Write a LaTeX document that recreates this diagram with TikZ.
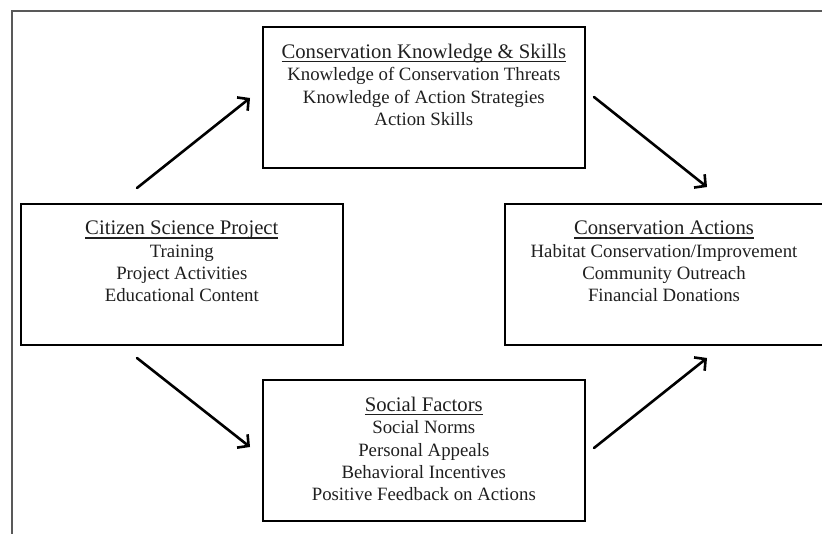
\documentclass[tikz,border=0pt]{standalone}
\usepackage{fontspec}
\setmainfont{Liberation Serif}
\usetikzlibrary{arrows.meta}
% title with a thin rule just under its baseline
\newcommand{\boxtitle}[1]{{\fontsize{20.7}{22.3}\selectfont
  \setbox0\hbox{#1}\rlap{\copy0}\raisebox{-3.6pt}{\rule{\wd0}{1.1pt}}}}
\begin{document}
\begin{tikzpicture}[x=1pt,y=-1pt,
  box/.style={draw=black,line width=1.6pt,rectangle,inner sep=0pt,
    minimum width=322pt,minimum height=141pt,anchor=north west},
  boxtext/.style={anchor=north,align=center,inner sep=0pt,text=black!88,
    font=\fontsize{18.8}{22.3}\selectfont},
  flow/.style={line width=2.6pt,line cap=round,
    -{Straight Barb[length=8pt,width=17pt,line width=2.6pt]}}]
\useasboundingbox (0,0) rectangle (822,534);
\begin{scope}
\clip (0,0) rectangle (822,534);
% outer frame
\draw[draw=black!65,line width=1.6pt] (12,11) rectangle (840,560);
% boxes
\node[box] (know) at (262,26) {};
\node[box] (csp) at (20,203) {};
\node[box,minimum width=330pt] (act) at (504,203) {};
\node[box] (soc) at (262,379) {};
\end{scope}
% box contents
\node[boxtext] (knowt) at ([yshift=-18pt]know.north)
  {\boxtitle{Conservation Knowledge \& Skills}\\Knowledge of Conservation Threats\\Knowledge of Action Strategies\\Action Skills};
\node[boxtext] (cspt) at ([yshift=-18pt]csp.north)
  {\boxtitle{Citizen Science Project}\\Training\\Project Activities\\Educational Content};
\node[boxtext] (actt) at ([xshift=160pt,yshift=-18pt]act.north west)
  {\boxtitle{Conservation Actions}\\Habitat Conservation/Improvement\\Community Outreach\\Financial Donations};
\node[boxtext] (soct) at ([yshift=-18pt]soc.north)
  {\boxtitle{Social Factors}\\Social Norms\\Personal Appeals\\Behavioral Incentives\\Positive Feedback on Actions};
% arrows between the stages
\coordinate (a1s) at (137,188); \coordinate (a1e) at (250,98);
\coordinate (a2s) at (594,97);  \coordinate (a2e) at (707,187);
\coordinate (a3s) at (137,358); \coordinate (a3e) at (250,447);
\coordinate (a4s) at (594,448); \coordinate (a4e) at (707,358);
\draw[flow] (a1s) -- (a1e);
\draw[flow] (a2s) -- (a2e);
\draw[flow] (a3s) -- (a3e);
\draw[flow] (a4s) -- (a4e);
\end{tikzpicture}
\end{document}
